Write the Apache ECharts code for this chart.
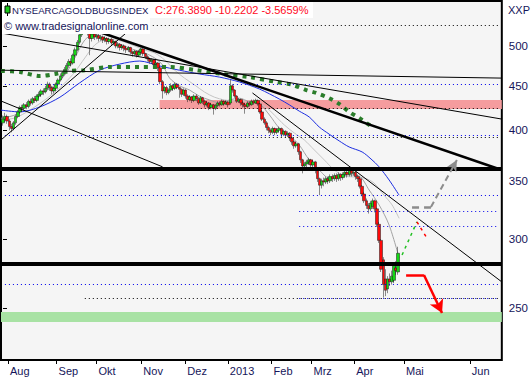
<!DOCTYPE html>
<html><head><meta charset="utf-8">
<script src="https://cdn.jsdelivr.net/npm/echarts@6/dist/echarts.min.js"></script>
<style>html,body{margin:0;padding:0;background:#fff}#c{width:531px;height:380px}</style>
</head><body><div id="c"></div>
<script>
// ---------- DATA ----------
const monthLabels = ['Aug','Sep','Okt','Nov','Dez','2013','Feb','Mrz','Apr','Mai','Jun'];
const monthPos = [2.35, 25.2, 44, 65.1, 85.8, 105.8, 126.4, 145.2, 165.3, 188.7, 219.7];
const yTicks = [250, 300, 350, 400, 450, 500];

const opens = [408,412,415,410,404,402,408,415,420,425,
424,428,426,432,430,435,433,438,440,444,
443,447,452,448,444,447,452,457,462,466,
470,475,480,478,488,495,505,515,520,525,
522,518,510,516,512,514,510,512,508,510,
506,509,504,506,500,502,498,500,497,495,
498,492,490,493,488,492,496,490,486,483,
480,482,476,478,472,455,444,448,442,445,
450,447,452,448,446,440,445,438,434,437,
433,438,435,430,436,432,428,430,425,428,
424,427,430,428,432,429,431,430,450,445,
438,432,434,430,428,426,430,428,432,430,
433,429,420,412,408,403,400,398,402,398,
400,402,396,399,395,397,392,388,384,386,
378,370,364,366,368,370,365,368,360,352,
346,350,349,352,350,354,352,355,352,356,
353,356,358,356,360,357,358,354,352,345,
338,332,328,325,327,332,325,312,299,284,
270,263,270,268,269,278,275];
const closes = [412,415,410,404,402,408,415,420,425,424,
428,426,432,430,435,433,438,440,444,443,
447,452,448,444,447,452,457,462,466,470,
475,480,478,488,495,505,515,520,525,522,
518,510,516,512,514,510,512,508,510,506,
509,504,506,500,502,498,500,497,495,498,
492,490,493,488,492,496,490,486,483,480,
482,476,478,472,455,444,448,442,445,450,
447,452,448,446,440,445,438,434,437,433,
438,435,430,436,432,428,430,425,428,424,
427,430,428,432,429,431,428,450,445,438,
432,434,430,428,426,430,428,432,430,433,
429,420,412,408,403,400,398,402,398,400,
402,396,399,395,397,392,388,384,386,378,
370,364,366,368,370,365,368,360,352,346,
350,349,352,350,354,352,355,352,356,353,
356,358,356,360,357,358,354,352,345,338,
332,328,325,330,332,325,312,299,277,266,
262,270,268,272,280,276,289];
const lows = [405,409,407,400,398,400,406,413,418,420,
422,423,424,427,428,430,431,435,437,439,
441,445,444,440,441,445,450,455,459,463,
468,472,474,476,486,493,502,512,517,518,
514,488,506,508,509,506,507,504,505,502,
503,500,501,497,497,494,495,493,491,492,
489,486,487,485,486,490,487,483,480,477,
477,473,474,468,452,435,441,439,440,443,
444,445,446,436,437,438,435,431,432,430,
431,432,428,429,429,425,426,422,423,417,
422,425,426,427,427,428,425,428,442,436,
430,430,427,425,418,424,426,427,428,429,
427,418,410,406,400,397,395,396,395,396,
398,393,394,392,393,389,385,381,382,375,
367,357,361,363,365,362,363,357,349,337,
343,345,347,347,348,349,350,349,350,350,
351,354,353,354,354,355,351,349,343,336,
330,325,321,323,325,322,310,297,275,257,
258,260,265,266,267,273,273];
const highs = [416,419,417,412,407,410,417,422,427,428,
430,431,434,435,437,438,440,443,446,447,
450,455,454,450,449,454,459,465,468,473,
478,483,484,490,498,508,518,524,530,528,
526,521,519,518,517,516,515,514,513,512,
511,511,509,507,505,504,502,502,499,500,
499,494,495,494,495,498,497,491,488,485,
484,483,481,479,474,457,450,450,447,453,
452,454,453,449,447,447,446,440,439,438,
440,440,437,438,437,434,432,431,430,429,
429,432,432,434,433,433,432,457,452,446,
439,436,435,432,430,432,432,434,434,435,
434,430,422,414,410,405,402,404,403,402,
404,403,401,400,399,398,393,389,388,387,
379,371,368,370,372,371,370,369,361,353,
352,353,354,354,356,356,357,357,358,357,
358,361,360,362,362,360,360,356,353,346,
340,334,330,332,334,333,326,314,300,286,
277,272,274,276,282,283,294];

// moving averages [bar, price]
const maBlue = [[-0.9,422],[8,420],[17.4,425.6],[26.8,436.7],[36,453.4],[45.5,469],[55,476.7],[64.3,480.5],[73.7,474.3],[83,469],[92.5,464.3],[101.9,460.5],[111.3,454.6],[120.7,446.2],[130,434.6],[134.7,428],[139.4,420.9],[144.1,414.4],[148.8,403.6],[153.5,396],[158.2,389],[162.9,382.8],[169,377.8],[173.2,370.8],[177,363.2],[181.7,350.8],[186.4,337]];
const maFast = [[-0.9,413],[5.6,416.6],[10.3,424.3],[15,433.5],[19.7,442.7],[24.4,451.2],[29.1,463],[33.8,484.4],[38.5,508],[43.2,516.1],[47.9,510.7],[52.6,505.3],[57.3,500],[62,494.7],[66.7,490.8],[71.4,484.4],[75.1,475.5],[78.4,459.3],[83.1,450],[87.8,445],[92.5,437.8],[97.2,433.5],[101.9,430.1],[106.6,433.5],[111.3,435.5],[116,431.2],[120.7,429],[125.4,416.6],[130,402.5],[134.7,395],[139.4,384.8],[144.1,369.9],[148.8,360.2],[153.5,352.6],[158.2,353.6],[162.9,355.5],[167.6,354.5],[172.3,341.6],[177,328.4],[181.7,311.4],[186.4,285.6]];
const maSlow = [[-0.9,411],[5.6,413.3],[10.3,418.7],[15,425.6],[19.7,433.5],[24.4,442.7],[29.1,453.4],[33.8,466.8],[38.5,484.4],[43.2,501.3],[47.9,508],[52.6,508],[57.3,505.3],[62,500],[66.7,494.7],[71.4,490.8],[76.1,481.8],[80.8,469],[85.4,459.3],[90.1,451.2],[94.8,442.7],[99.5,436.7],[104.2,433.5],[108.9,432.4],[113.6,432.4],[118.3,431.2],[123,426.7],[127.7,416.6],[132.4,405.7],[137.1,397.2],[141.8,390],[146.5,379.8],[151.2,369.9],[155.9,360.2],[160.6,354.5],[165.3,353.6],[170,352.6],[174.6,348],[179.3,337],[183.1,328.4],[186.4,317]];
const maGreen = [[-0.9,468],[8,466.8],[17.4,461.8],[24.4,464.3],[31.5,468],[38.5,469],[50.2,473],[64.3,473],[78.4,473],[91.1,469],[103.3,464.3],[116,460.5],[128.6,454.6],[136.2,451.2],[142.7,445],[147.4,441.6],[153.5,435.5],[158.2,429],[162.9,420],[167.6,413.3],[173.7,403.6]];

// horizontal levels [startBar, price]
const blueLevels = [[0.9,452.2],[0.9,395],[0.9,363.2],[0.9,336.5],[139.4,323.2],[139.4,310.6],[0.9,266.4],[139.4,256.7]];
const blackLevels = [[38.5,528.6],[38.5,424.3],[38.5,393],[38.5,360.2],[38.5,256.7]];
const levelEnd = 233.3;
const thickLevels = [361.5, 280.9];
// trend lines [[bar, price],[bar, price]]
const thinTrends = [
  [[-0.94,517.5],[234.74,412.1]],
  [[-0.94,469],[234.74,459.3]],
  [[-0.94,432.3],[75.1,363.2]],
  [[-0.94,390],[59.6,521.6]],
  [[117.4,441.6],[234.74,267.9]]
];
const thickTrend = [[38.5,525.8],[234.74,360.2]];
// zones
const pinkZone = {from:73.7, low:423.2, high:433.5};
const greenZone = {low:241, high:247.4};
// scenario paths
const greyPath = [[192.5,326.6],[201.4,326.6],[213.6,369.9]];
const greenPath = [[187.8,287.7],[194.8,314]];
const redDashPath = [[194.8,314],[199.5,300.9]];
const redPath = [[189.7,272.9],[198.1,272.9],[206.6,246.7]];

// ---------- CHART ----------
const xMin = -0.94, xMax = 234.74;
const L = Math.log;
const chart = echarts.init(document.getElementById('c'), null, {renderer:'svg'});
const candles = opens.map((o,i)=>[i, L(o), L(closes[i]), L(lows[i]), L(highs[i])]);
const toXY = a => a.map(p => [p[0], L(p[1])]);

const mls = [];
function addSeg(p1, p2, style, arrow) {
  const s = Object.assign({width:1, color:'#000', type:'solid'}, style);
  mls.push([
    {coord:[p1[0], L(p1[1])], lineStyle:s, symbol:'none'},
    {coord:[p2[0], L(p2[1])], lineStyle:s, symbol: arrow ? 'arrow' : 'none',
     symbolSize: arrow || 0, itemStyle:{color:s.color}}
  ]);
}
blackLevels.forEach(l => addSeg([l[0], l[1]], [levelEnd, l[1]], {color:'#000', type:[1,3]}));
blueLevels.forEach(l => addSeg([l[0], l[1]], [levelEnd, l[1]], {color:'#0000ee', type:[1,3]}));
thinTrends.forEach(t => addSeg(t[0], t[1], {color:'#000', width:1}));
thickLevels.forEach(v => addSeg([xMin, v], [xMax, v], {color:'#000', width:4}));
addSeg(thickTrend[0], thickTrend[1], {color:'#000', width:2.5});
addSeg(greyPath[0], greyPath[1], {color:'#8c8c8c', width:2.5, type:[7,5]});
addSeg(greyPath[1], greyPath[2], {color:'#8c8c8c', width:2, type:[6,4]}, [8,11]);
addSeg(greenPath[0], greenPath[1], {color:'#22c022', width:1.5, type:[3,4]});
addSeg(redDashPath[0], redDashPath[1], {color:'#ff0000', width:1.5, type:[3,4]});
addSeg(redPath[0], redPath[1], {color:'#ff0000', width:2.5});
addSeg(redPath[1], redPath[2], {color:'#ff0000', width:2.5}, [11,13]);

const txt = '#15155a';
const option = {
  animation:false,
  backgroundColor:'#ffffff',
  grid:{left:1, right:28, top:1, bottom:20, show:true, backgroundColor:'#f5f5f5', borderColor:'#000', borderWidth:2},
  xAxis:{type:'value', min:xMin, max:xMax, splitLine:{show:false}, axisLine:{show:false},
    axisTick:{show:true, length:4, customValues:monthPos, lineStyle:{color:'#000'}},
    axisLabel:{customValues:monthPos, align:'left', margin:5, color:txt, fontSize:11, fontFamily:'Liberation Sans',
      padding:[0,0,0,2],
      formatter:v=>{let b=0;monthPos.forEach((m,i)=>{if(Math.abs(m-v)<Math.abs(monthPos[b]-v))b=i;});return monthLabels[b];}}},
  yAxis:{type:'value', position:'right', min:L(217.9), max:L(563.2), splitLine:{show:false}, axisLine:{show:false},
    axisTick:{show:true, length:4, customValues:yTicks.map(L), lineStyle:{color:'#000'}},
    axisLabel:{customValues:yTicks.map(L), margin:7, color:txt, fontSize:11.5, fontFamily:'Liberation Sans',
      formatter:v=>String(Math.round(Math.exp(v)))}},
  series:[
    {type:'line', data:[], silent:true, z:1,
     markArea:{silent:true, data:[
       [{coord:[pinkZone.from, L(pinkZone.low)], itemStyle:{color:'#f59c9e'}},{coord:[xMax, L(pinkZone.high)]}],
       [{coord:[xMin, L(greenZone.low)], itemStyle:{color:'#a8e2a4'}},{coord:[xMax, L(greenZone.high)]}]
     ]}},
    {type:'line', data:toXY(maSlow), showSymbol:false, smooth:0.3, z:2, lineStyle:{color:'#c4c4c4', width:1}},
    {type:'line', data:toXY(maFast), showSymbol:false, smooth:0.3, z:2, lineStyle:{color:'#a2a2a2', width:1}},
    {type:'line', data:toXY(maBlue), showSymbol:false, smooth:0.3, z:2, lineStyle:{color:'#1c2ee0', width:1}},
    {type:'candlestick', data:candles, z:3, barWidth:3,
     itemStyle:{color:'#14d814', color0:'#ff0a0a', borderColor:'#1a1a1a', borderColor0:'#1a1a1a', borderWidth:0.5}},
    {type:'line', data:toXY(maGreen), showSymbol:false, smooth:0.3, z:4, lineStyle:{color:'#2a7d2a', width:4, type:[4,5]}},
    {type:'line', data:[], silent:true, z:5,
     markLine:{silent:true, symbol:['none','none'], label:{show:false}, data:mls}}
  ],
  graphic:[
    {type:'rect', shape:{x:2, y:2, width:311, height:16}, style:{fill:'#fff'}, z:100},
    {type:'rect', shape:{x:2, y:18, width:148, height:16}, style:{fill:'#fff'}, z:100},
    {type:'line', shape:{x1:7.5, y1:3, x2:7.5, y2:16}, style:{stroke:'#000', lineWidth:1}, z:101},
    {type:'rect', shape:{x:5, y:6, width:5, height:7}, style:{fill:'#18c818', stroke:'#000', lineWidth:1}, z:102},
    {type:'text', x:12, y:10, style:{text:'NYSEARCAGOLDBUGSINDEX', fill:txt, font:'9.6px "Liberation Sans"', verticalAlign:'middle'}, z:103},
    {type:'text', x:155, y:10, style:{text:'C:276.3890 -10.2202 -3.5659%', fill:'#ff0a1e', font:'11px "Liberation Sans"', verticalAlign:'middle'}, z:103},
    {type:'text', x:4, y:26, style:{text:'© www.tradesignalonline.com', fill:txt, font:'11px "Liberation Sans"', verticalAlign:'middle'}, z:103},
    {type:'text', x:508, y:10, style:{text:'XXP', fill:txt, font:'11px "Liberation Sans"', verticalAlign:'middle'}, z:103}
  ]
};
chart.setOption(option);
</script></body></html>
